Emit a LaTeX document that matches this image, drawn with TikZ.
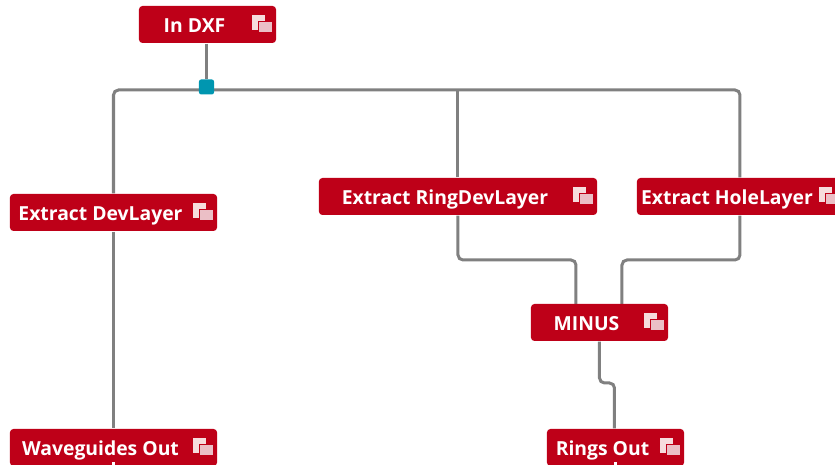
\documentclass[tikz,border=0pt]{standalone}
\usepackage{fontspec}
\setsansfont{Open Sans}
\usetikzlibrary{backgrounds}
\definecolor{blockred}{HTML}{BE0018}
\definecolor{wiregray}{HTML}{808080}
\definecolor{jointeal}{HTML}{0096B0}
\definecolor{iconback}{HTML}{F6DCDD}
\definecolor{iconfront}{HTML}{EBBFC6}
\tikzset{
  block/.style={fill=blockred,text=white,rounded corners=1pt,inner sep=0pt,minimum height=0.37cm,
    text height=0.17cm,text depth=0cm,
    font=\sffamily\bfseries\fontsize{5.5}{6}\selectfont,execute at end node=\hspace{0.26cm}},
  wire/.style={draw=wiregray,line width=0.03cm,rounded corners=0.05cm},
  joint/.style={fill=jointeal,rounded corners=0.6pt,inner sep=0pt,minimum size=0.15cm}
}
\begin{document}
\begin{tikzpicture}[x=0.01cm,y=-0.01cm]
\useasboundingbox (0,0) rectangle (835,465);
\node[block,minimum width=1.37cm] (indxf) at (207.5,24.5) {In DXF};
\node[block,minimum width=2.07cm] (devlayer) at (113.5,212.5) {Extract DevLayer};
\node[block,minimum width=2.78cm] (ringlayer) at (458,196.5) {Extract RingDevLayer};
\node[block,minimum width=2.06cm] (holelayer) at (740,196.5) {Extract HoleLayer};
\node[block,minimum width=1.37cm] (minus) at (599.5,322.5) {MINUS};
\node[block,minimum width=2.07cm] (waveout) at (113.5,447.5) {Waveguides Out};
\node[block,minimum width=1.37cm] (ringsout) at (615.5,447.5) {Rings Out};
\node[joint] (split) at (206.5,87) {};
\coordinate (bus) at (206.5,90);
\coordinate (ringdown) at (576,260);
\coordinate (holedown) at (622,260);
\coordinate (minusleft) at (576,304);
\coordinate (minusright) at (622,304);
\coordinate (jogstart) at (599.5,383);
\coordinate (jogend) at (614.5,383);
\begin{scope}[on background layer]
\draw[wire] (indxf.south -| split) -- (split);
\draw[wire] (devlayer.north) |- (bus);
\draw[wire] (holelayer.north) |- (bus);
\draw[wire] (ringlayer.north) -- (ringlayer.north |- bus);
\draw[wire] (devlayer.south) -- (waveout.north);
\draw[wire] (ringlayer.south) |- (ringdown) -- (minusleft);
\draw[wire] (holelayer.south) |- (holedown) -- (minusright);
\draw[wire] (minus.south) -- (jogstart) -- (jogend) -- (jogend |- ringsout.north);
\end{scope}
% small copy marks on the blocks
\foreach \blockname in {indxf,devlayer,ringlayer,holelayer,minus,waveout,ringsout} {
  \fill[iconback] (\blockname.east) ++(-25,-9.5) rectangle ++(13,15);
  \filldraw[fill=iconfront,draw=blockred,line width=0.25pt] (\blockname.east) ++(-18,-3.5) rectangle ++(14,11);
}
\fill[white] (waveout.south) ++(-1.5,-5) rectangle ++(3,5);
\fill[white] (ringsout.south) ++(-1.5,-5) rectangle ++(3,5);
\end{tikzpicture}
\end{document}
